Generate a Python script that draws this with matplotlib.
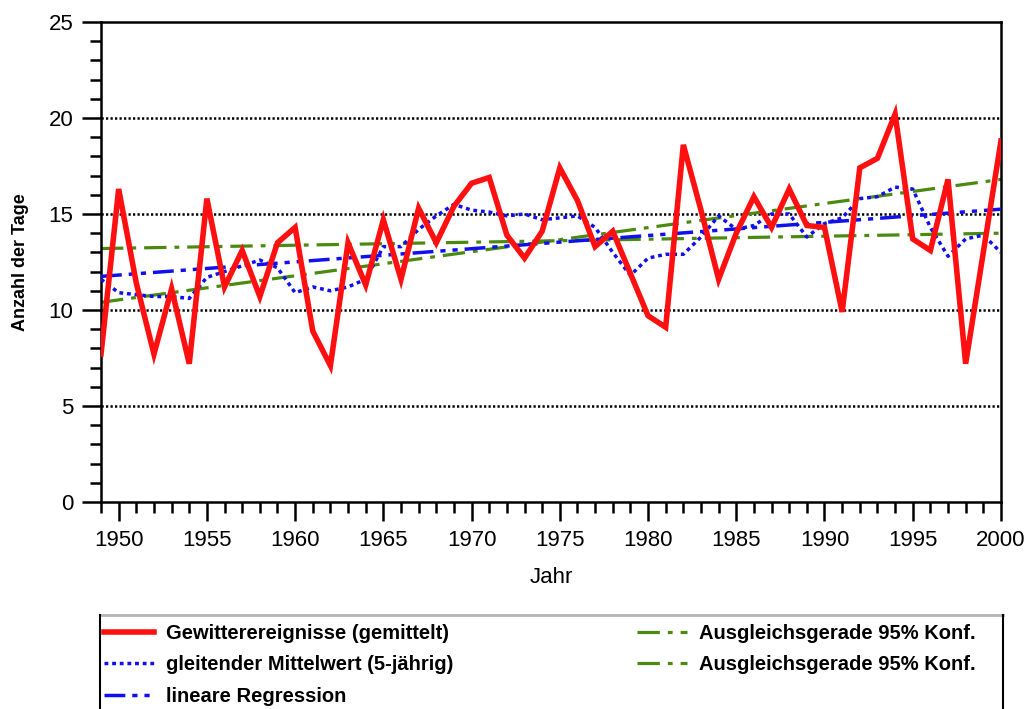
import matplotlib.pyplot as plt
from matplotlib.lines import Line2D
from matplotlib.ticker import MultipleLocator

years = list(range(1949, 2001))

# Gewitterereignisse (gemittelt), Anzahl der Tage pro Jahr
gewitter = [
    7.7, 16.3, 11.4, 7.7, 11.1, 7.2, 15.8, 11.2, 13.1, 10.7,
    13.5, 14.3, 8.9, 7.1, 13.5, 11.3, 14.7, 11.6, 15.3, 13.5,
    15.4, 16.6, 16.9, 13.9, 12.7, 14.1, 17.4, 15.7, 13.3, 14.1,
    11.9, 9.7, 9.1, 18.6, 15.2, 11.6, 14.0, 15.9, 14.3, 16.3,
    14.4, 14.3, 9.9, 17.4, 17.9, 20.2, 13.7, 13.1, 16.8, 7.2,
    13.0, 18.8,
]

# gleitender Mittelwert (5-jaehrig)
mittel = [
    11.6, 10.9, 10.8, 10.7, 10.7, 10.6, 11.7, 12.0, 12.3, 12.6,
    12.2, 10.9, 11.2, 11.0, 11.2, 11.6, 13.3, 13.3, 14.2, 14.9,
    15.5, 15.2, 15.1, 14.9, 15.0, 14.7, 14.8, 14.9, 14.3, 13.0,
    11.8, 12.7, 12.9, 12.9, 13.8, 14.9, 14.2, 14.4, 15.0, 15.0,
    13.8, 14.5, 14.8, 15.8, 15.9, 16.4, 16.3, 14.3, 12.8, 13.7,
    13.9, 13.0,
]

# Geraden: Werte am Anfang und Ende des Zeitraums
gerade_jahre = [1949, 2000]
regression = [11.75, 15.25]
konf_oben = [13.2, 14.0]
konf_unten = [10.4, 16.8]

plt.rcParams["font.family"] = ["Liberation Sans", "DejaVu Sans"]

fig = plt.figure(figsize=(10.35, 7.09), dpi=100)
ax = fig.add_axes([0.0976, 0.292, 0.8695, 0.677])

green = "#4a8a10"
blue = "#1010ee"
gruen_ls = (0, (7, 2.5, 1.5, 2.5))

ax.plot(gerade_jahre, konf_oben, color=green, lw=2.3, ls=gruen_ls,
        label="Ausgleichsgerade 95% Konf.", zorder=2)
ax.plot(gerade_jahre, konf_unten, color=green, lw=2.3, ls=gruen_ls,
        label="Ausgleichsgerade 95% Konf.", zorder=2)
ax.plot(gerade_jahre, regression, color=blue, lw=2.5, ls=(0, (6, 2, 1.5, 2, 1.5, 2)),
        label="lineare Regression", zorder=3)
ax.plot(years, mittel, color=blue, lw=2.5, ls=(0, (1.1, 1.1)),
        label="gleitender Mittelwert (5-jährig)", zorder=3)
ax.plot(years, gewitter, color="#ff1010", lw=4.0, solid_joinstyle="miter",
        label="Gewitterereignisse (gemittelt)", zorder=4)

ax.set_xlim(1949, 2000)
ax.set_ylim(0, 25)
ax.xaxis.set_major_locator(MultipleLocator(5))
ax.xaxis.set_minor_locator(MultipleLocator(1))
ax.yaxis.set_major_locator(MultipleLocator(5))
ax.yaxis.set_minor_locator(MultipleLocator(1))

for y in (5, 10, 15, 20):
    ax.axhline(y, color="black", lw=1.8, ls=(0, (0.9, 0.9)), zorder=1)

ax.tick_params(axis="both", which="major", direction="out", length=14, width=1.8,
               labelsize=16, pad=6)
ax.tick_params(axis="both", which="minor", direction="out", length=8, width=1.8)
for side in ax.spines.values():
    side.set_linewidth(1.8)

ax.set_xlabel("Jahr", fontsize=16, labelpad=12)
ax.set_ylabel("Anzahl der Tage", fontsize=13, fontweight="bold", labelpad=14)

# Legende in zwei Spalten, mit eigenem Rahmen
handles, labels = ax.get_legend_handles_labels()
leg_kw = dict(loc="upper left", frameon=False, borderaxespad=0, borderpad=0,
              handlelength=2.5, handletextpad=0.6, labelspacing=0.62,
              prop={"weight": "bold", "size": 14.5})
W, H = 1035.0, 709.0
links = fig.legend([handles[i] for i in (4, 3, 2)], [labels[i] for i in (4, 3, 2)],
                   bbox_to_anchor=(104 / W, 1 - 624 / H), **leg_kw)
rechts = fig.legend([handles[i] for i in (0, 1)], [labels[i] for i in (0, 1)],
                    bbox_to_anchor=(637 / W, 1 - 624 / H), **leg_kw)

x0, x1, ytop = 100 / W, 1003 / W, 1 - 615 / H
fig.add_artist(Line2D([x0, x1], [ytop, ytop], transform=fig.transFigure,
                      color="#b4b4b4", lw=2))
fig.add_artist(Line2D([x0, x0], [ytop, 0], transform=fig.transFigure,
                      color="black", lw=1.5))
fig.add_artist(Line2D([x1, x1], [ytop, 0], transform=fig.transFigure,
                      color="black", lw=1.5))

fig.savefig("out.png", dpi=100)
